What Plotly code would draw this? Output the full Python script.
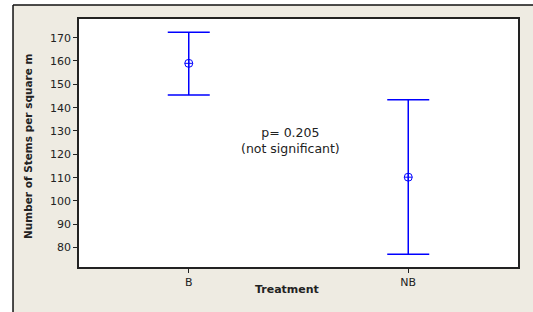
import plotly.graph_objects as go

treatments = ["B", "NB"]
means = [159.0, 110.2]
upper = [172.3, 143.4]
lower = [145.4, 77.2]
y_ticks = [80, 90, 100, 110, 120, 130, 140, 150, 160, 170]

err_plus = [u - m for u, m in zip(upper, means)]
err_minus = [m - l for m, l in zip(means, lower)]

BLUE = "#0000FF"
BG = "#EEEBE2"
FONT = "DejaVu Sans"

fig = go.Figure()
fig.add_trace(go.Scatter(
    x=[0, 1], y=means, mode="markers",
    marker=dict(symbol="circle-cross-open", size=8, color=BLUE, line=dict(width=1, color=BLUE)),
    error_y=dict(type="data", symmetric=False, array=err_plus, arrayminus=err_minus,
                 color=BLUE, thickness=1.5, width=21),
    showlegend=False, hoverinfo="skip",
))

fig.add_annotation(x=0.462, y=126, xref="x", yref="y",
                   text="p= 0.205<br>(not significant)", showarrow=False,
                   font=dict(family=FONT, size=12.5, color="#222222"), align="center")

# axis titles
fig.add_annotation(x=-0.115, y=0.486, xref="paper", yref="paper",
                   text="<b>Number of Stems per square m</b>", textangle=-90,
                   showarrow=False, xanchor="center", yanchor="middle",
                   font=dict(family=FONT, size=10.5, color="#222222"))
fig.add_annotation(x=0.473, y=-0.0927, xref="paper", yref="paper",
                   text="<b>Treatment</b>", showarrow=False,
                   xanchor="center", yanchor="middle",
                   font=dict(family=FONT, size=11, color="#222222"))

# white area outside the outer frame (top strip and left strip)
fig.add_shape(type="rect", xref="paper", yref="paper",
              x0=-0.3, x1=1.2, y0=1.0565, y1=1.2,
              fillcolor="white", line=dict(width=0), layer="below")
fig.add_shape(type="rect", xref="paper", yref="paper",
              x0=-0.3, x1=-0.1503, y0=-0.3, y1=1.2,
              fillcolor="white", line=dict(width=0), layer="below")
# outer frame lines
fig.add_shape(type="line", xref="paper", yref="paper",
              x0=-0.1503, x1=1.2, y0=1.0565, y1=1.0565,
              line=dict(color="#111111", width=1.5), layer="below")
fig.add_shape(type="line", xref="paper", yref="paper",
              x0=-0.1503, x1=-0.1503, y0=-0.3, y1=1.0565,
              line=dict(color="#111111", width=1.5), layer="below")

fig.update_layout(
    width=533, height=312,
    margin=dict(l=79, r=15, t=19, b=45),
    paper_bgcolor=BG,
    plot_bgcolor="white",
    font=dict(family=FONT, size=11, color="#222222"),
    xaxis=dict(range=[-0.5, 1.5], tickvals=[0, 1], ticktext=treatments,
               showgrid=False, zeroline=False, showline=True, linecolor="#222222",
               linewidth=1.5, mirror=True, ticks="outside", ticklen=4, tickcolor="#222222",
               tickfont=dict(size=11)),
    yaxis=dict(range=[71.7, 178.0], tickvals=y_ticks,
               showgrid=False, zeroline=False, showline=True, linecolor="#222222",
               linewidth=1.5, mirror=True, ticks="outside", ticklen=4, tickcolor="#222222",
               tickfont=dict(size=11)),
)

fig.write_html("out.html", config={"displayModeBar": False},
               post_script="document.body.style.margin='0';document.body.style.padding='0';")
